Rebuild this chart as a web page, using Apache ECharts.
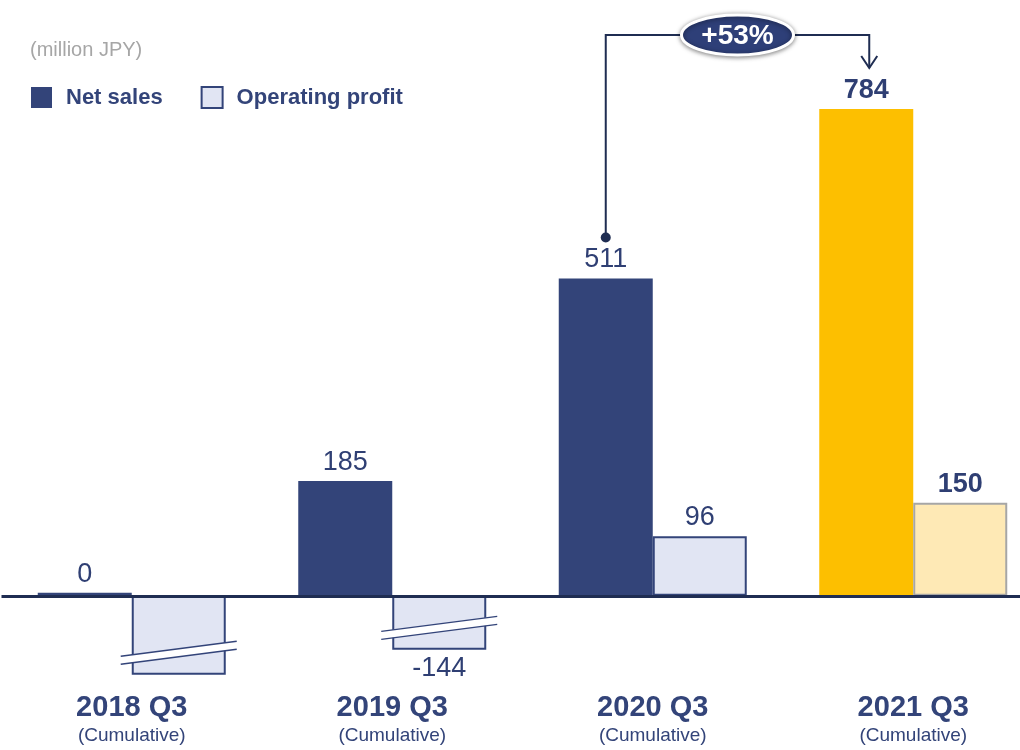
<!DOCTYPE html>
<html>
<head>
<meta charset="utf-8">
<script src="https://cdn.jsdelivr.net/npm/echarts@6/dist/echarts.min.js"></script>
<style>
  html, body { margin: 0; padding: 0; background: #fff; }
  #chart { width: 1020px; height: 750px; }
</style>
</head>
<body>
<div id="chart"></div>
<script>
const categories = ['2018 Q3', '2019 Q3', '2020 Q3', '2021 Q3'];
const subLabel = '(Cumulative)';
const netSales = [0, 185, 511, 784];
// operating profit bars as drawn (the negative ones are cut short by break marks)
const opProfitShown = [-127, -87, 96, 150];
const opProfitLabels = ['', '-144', '96', '150'];
const hasBreak = [true, true, false, false];
const growthLabel = '+53%';

const navy = '#334479';
const dark = '#1f2d52';
const barW = 94;

const chart = echarts.init(document.getElementById('chart'));

const netData = netSales.map((v, i) => {
  if (i === 3) {
    return { value: v, itemStyle: { color: '#fdbf00' }, label: { fontWeight: 'bold' } };
  }
  return v;
});

const opData = opProfitShown.map((v, i) => {
  const d = { value: v };
  if (v < 0) d.label = { position: 'bottom' };
  if (i === 3) {
    d.itemStyle = { color: '#fee9b5', borderColor: '#a6a6a6' };
    d.label = { fontWeight: 'bold' };
  }
  return d;
});

const option = {
  animation: false,
  title: {
    text: '(million JPY)',
    left: 25,
    top: 35,
    textStyle: { fontFamily: 'Liberation Sans', fontSize: 20, fontWeight: 'normal', color: '#a6a6a6' }
  },
  legend: {
    left: 26,
    top: 81,
    icon: 'rect',
    itemWidth: 21,
    itemHeight: 21,
    itemGap: 38,
    textStyle: { fontFamily: 'Liberation Sans', fontSize: 22, fontWeight: 'bold', color: navy, padding: [0, 0, 0, 9] },
    data: [
      { name: 'Net sales', itemStyle: { color: navy } },
      { name: 'Operating profit', itemStyle: { color: '#e1e5f3', borderColor: navy, borderWidth: 2 } }
    ]
  },
  grid: {
    left: 1.5,
    width: 1042,
    top: 99,
    height: 590,
    outerBoundsMode: 'none'
  },
  xAxis: {
    type: 'category',
    data: categories,
    axisLine: { show: false, onZero: false },
    axisTick: { show: false },
    axisLabel: {
      margin: 3,
      interval: 0,
      formatter: v => '{y|' + v + '}\n{c|' + subLabel + '}',
      rich: {
        y: { fontFamily: 'Liberation Sans', fontSize: 29, fontWeight: 'bold', color: navy, lineHeight: 32 },
        c: { fontFamily: 'Liberation Sans', fontSize: 19, color: navy, lineHeight: 24 }
      }
    }
  },
  yAxis: {
    type: 'value',
    min: -150,
    max: 800,
    show: false
  },
  series: [
    {
      name: 'Net sales',
      type: 'bar',
      data: netData,
      barWidth: barW,
      barGap: '0%',
      barMinHeight: 3,
      itemStyle: { color: navy },
      label: {
        show: true,
        position: 'top',
        distance: 5,
        fontFamily: 'Liberation Sans',
        fontSize: 27,
        color: '#2f3f73'
      },
      markLine: {
        silent: true,
        symbol: 'none',
        label: { show: false },
        lineStyle: { color: dark, width: 3, type: 'solid' },
        data: [{ yAxis: 0 }]
      }
    },
    {
      name: 'Operating profit',
      type: 'bar',
      data: opData,
      barWidth: barW,
      itemStyle: { color: '#e1e5f3', borderColor: navy, borderWidth: 2 },
      label: {
        show: true,
        position: 'top',
        distance: 5,
        fontFamily: 'Liberation Sans',
        fontSize: 27,
        color: '#2f3f73',
        formatter: p => opProfitLabels[p.dataIndex]
      }
    }
  ]
};

chart.setOption(option);

// annotation + break marks, placed from the axes
const px = (i, v) => chart.convertToPixel({ gridIndex: 0 }, [i, v]);
const half = barW / 2;
const graphics = [];

const x1 = px(2, 0)[0] - half;
const y1 = px(2, netSales[2])[1] - 41;
const x2 = px(3, 0)[0] - half + 3;
const y2 = px(3, netSales[3])[1] - 41;
const yb = px(3, netSales[3])[1] - 74;
graphics.push({
  type: 'polyline', z: 100,
  shape: { points: [[x1, y1], [x1, yb], [x2, yb], [x2, y2]] },
  style: { stroke: dark, lineWidth: 2, fill: null }
});
graphics.push({ type: 'circle', z: 100, shape: { cx: x1, cy: y1, r: 5 }, style: { fill: dark } });
graphics.push({
  type: 'polyline', z: 100,
  shape: { points: [[x2 - 8, y2 - 12], [x2, y2], [x2 + 8, y2 - 12]] },
  style: { stroke: dark, lineWidth: 2, fill: null }
});
const ex = (x1 + x2) / 2;
graphics.push({
  type: 'ellipse', z: 101,
  shape: { cx: ex, cy: yb, rx: 56, ry: 20 },
  style: { fill: '#2e3f78', stroke: '#fff', lineWidth: 3, shadowBlur: 5, shadowColor: 'rgba(0,0,0,0.45)', shadowOffsetY: 1 }
});
graphics.push({
  type: 'text', z: 102,
  x: ex, y: yb + 1,
  style: { text: growthLabel, fill: '#fff', font: 'bold 28px "Liberation Sans"', align: 'center', verticalAlign: 'middle' }
});

hasBreak.forEach((b, i) => {
  if (!b) return;
  const cx = px(i, 0)[0] + half;
  const cy = px(i, opProfitShown[i])[1] - 22;
  const xl = cx - 58, xr = cx + 58;
  const yl = cy + 7.5, yr = cy - 7.5;
  graphics.push({
    type: 'polygon', z: 100,
    shape: { points: [[xl, yl - 4], [xr, yr - 4], [xr, yr + 4], [xl, yl + 4]] },
    style: { fill: '#fff' }
  });
  graphics.push({ type: 'line', z: 101, shape: { x1: xl, y1: yl - 4, x2: xr, y2: yr - 4 }, style: { stroke: navy, lineWidth: 1.5 } });
  graphics.push({ type: 'line', z: 101, shape: { x1: xl, y1: yl + 4, x2: xr, y2: yr + 4 }, style: { stroke: navy, lineWidth: 1.5 } });
});

chart.setOption({ graphic: graphics });
</script>
</body>
</html>
